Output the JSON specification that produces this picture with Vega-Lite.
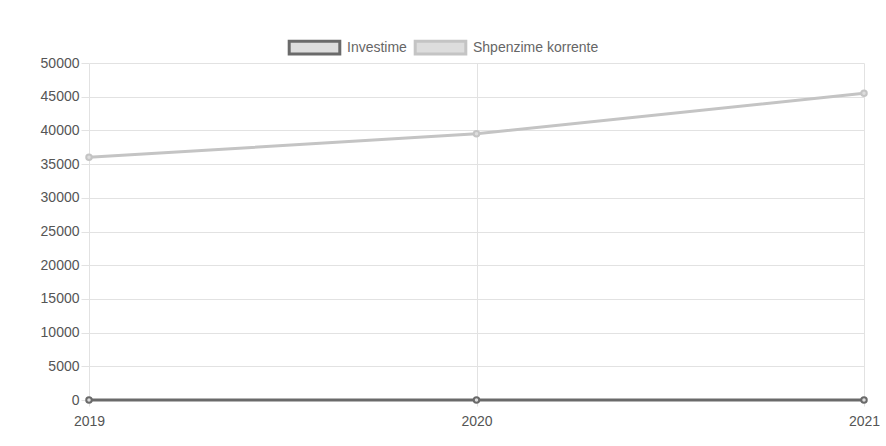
{
  "$schema": "https://vega.github.io/schema/vega-lite/v6.json",
  "width": 775,
  "height": 337,
  "autosize": {"type": "none"},
  "padding": {"left": 89, "top": 63, "right": 22, "bottom": 46},
  "background": "white",
  "config": {
    "view": {"stroke": null},
    "font": "Liberation Sans",
    "axis": {"labelFont": "Liberation Sans", "labelFontSize": 14, "labelColor": "#555", "gridColor": "#e2e2e2", "tickColor": "#e2e2e2", "domain": false}
  },
  "data": {
    "values": [
      {"year": "2019", "series": "Investime", "value": 0},
      {"year": "2020", "series": "Investime", "value": 0},
      {"year": "2021", "series": "Investime", "value": 0},
      {"year": "2019", "series": "Shpenzime korrente", "value": 36000},
      {"year": "2020", "series": "Shpenzime korrente", "value": 39500},
      {"year": "2021", "series": "Shpenzime korrente", "value": 45500}
    ]
  },
  "encoding": {
    "x": {"field": "year", "type": "ordinal", "scale": {"type": "point", "padding": 0},
      "axis": {"title": null, "labelAngle": 0, "grid": true, "tickSize": 6, "labelPadding": 8}},
    "y": {"field": "value", "type": "quantitative", "scale": {"domain": [0, 50000], "nice": false},
      "axis": {"title": null, "format": "d", "labelOverlap": false, "values": [0,5000,10000,15000,20000,25000,30000,35000,40000,45000,50000], "tickSize": 8, "labelPadding": 2}},
    "color": {"field": "series", "type": "nominal",
      "scale": {"domain": ["Investime", "Shpenzime korrente"], "range": ["#6a6a6a", "#c4c4c4"]},
      "legend": {"title": null, "orient": "none", "legendX": 208, "legendY": -33, "direction": "horizontal",
        "symbolType": "M-1.6,-0.4H1.6V0.4H-1.6Z", "symbolSize": 1000, "symbolStrokeWidth": 3, "symbolFillColor": "#ececec",
        "labelFontSize": 14, "labelColor": "#666", "labelFont": "Liberation Sans", "columnPadding": 2, "labelOffset": 15}}
  },
  "layer": [
    {"mark": {"type": "line", "strokeWidth": 3}},
    {"mark": {"type": "point", "filled": false, "fill": "#dddddd", "strokeWidth": 2, "size": 30, "opacity": 1}}
  ]
}
